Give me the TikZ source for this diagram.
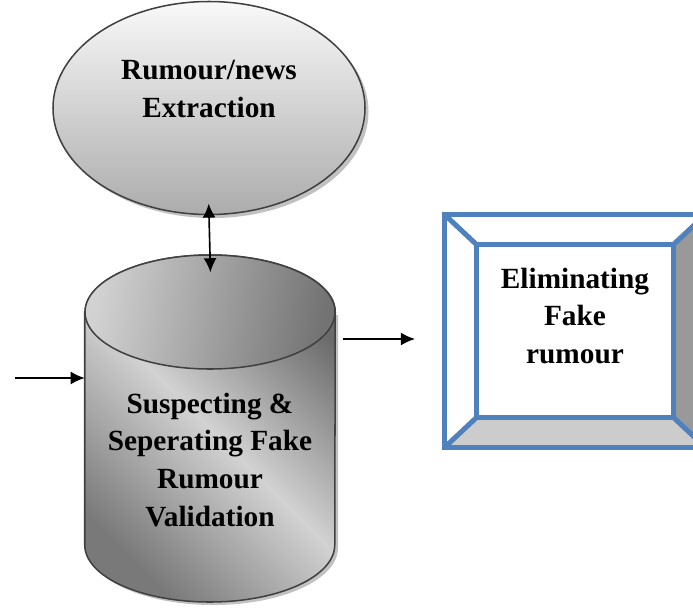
\documentclass[tikz,border=0pt]{standalone}
\usepackage{fontspec}
\setmainfont{Liberation Serif}
\usepackage{xcolor}
\usetikzlibrary{shapes.geometric,arrows.meta,positioning,calc,shadows}
\definecolor{bevelblue}{HTML}{4F81BD}
\definecolor{cyldark}{HTML}{6A6A6A}
\definecolor{cyllight}{HTML}{D2D2D2}

\begin{document}
\begin{tikzpicture}[
    x=0.03cm, y=-0.03cm,
    txt/.style={font=\fontsize{25}{32.4}\selectfont\bfseries, align=center, inner sep=0pt},
    blob/.style={ellipse, draw=gray!50!black, line width=1.3pt, top color=gray!5, bottom color=gray!65,
        minimum width=9.36cm, minimum height=6.39cm,
        drop shadow={shadow xshift=3pt, shadow yshift=-3pt, fill=gray!70, opacity=0.7}},
    store/.style={rectangle, minimum width=7.5cm, minimum height=10.41cm, inner sep=0pt},
    cylline/.style={draw=gray!50!black, line width=1.3pt},
    frame/.style={rectangle, minimum width=7.8cm, minimum height=6.96cm, inner sep=0pt},
    link/.style={-{Latex[length=12pt,width=11pt]}, line width=1.4pt},
    bevel/.style={draw=bevelblue, line width=4.3pt, line join=miter}
]
    \useasboundingbox (0,0) rectangle (693,608);

    % Extraction stage
    \node[blob] (ext) at (209,108) {};
    \node[txt] (exttxt) at (209,89) {Rumour/news\\Extraction};

    % Validation store (cylinder drawn round the node)
    \node[store] (val) at (210,428.5) {};
    \fill[gray!70, opacity=0.7] (88,315) -- (88,548) arc[start angle=180, end angle=0, x radius=125, y radius=57]
        -- (338,315) -- cycle;
    \shade[cylline, left color=cyldark, right color=cyldark!90!white, middle color=cyllight, shading angle=-45]
        (val.west |- 0,312) -- (val.west |- 0,545) arc[start angle=180, end angle=0, x radius=125, y radius=57]
        -- (val.east |- 0,312) arc[start angle=0, end angle=-180, x radius=125, y radius=57] -- cycle;
    \shade[cylline, left color=cyllight, right color=gray!110, shading angle=80]
        (210,312) ellipse [x radius=125, y radius=57];
    \node[txt] (valtxt) at (210,460) {Suspecting \&\\Seperating Fake\\Rumour\\Validation};

    % Elimination box with bevel
    \node[frame] (elimframe) at (575,331) {};
    \node[rectangle, minimum width=5.88cm, minimum height=5.16cm, inner sep=0pt] (elim) at (575,331) {};
    \fill[white] (elimframe.north west) -- (elim.north west) -- (elim.south west) -- (elimframe.south west) -- cycle;
    \fill[white] (elimframe.north west) -- (elim.north west) -- (elim.north east) -- (elimframe.north east) -- cycle;
    \fill[gray!80] (elimframe.north east) -- (elim.north east) -- (elim.south east) -- (elimframe.south east) -- cycle;
    \fill[gray!40] (elimframe.south west) -- (elim.south west) -- (elim.south east) -- (elimframe.south east) -- cycle;
    \draw[bevel] (elimframe.north west) rectangle (elimframe.south east);
    \draw[bevel] (elim.north west) rectangle (elim.south east);
    \draw[bevel] (elimframe.north west) -- (elim.north west)
                 (elimframe.north east) -- (elim.north east)
                 (elimframe.south west) -- (elim.south west)
                 (elimframe.south east) -- (elim.south east);
    \node[txt] (elimtxt) at (575,316) {Eliminating\\Fake\\rumour};

    % Connectors
    \coordinate (inlet) at (15,378);
    \coordinate (outS) at (343,339);
    \coordinate (outE) at (415,339);
    \draw[link, {Latex[length=12pt,width=11pt]}-{Latex[length=12pt,width=11pt]}, shorten <=-10, shorten >=-15]
        (ext.south) -- (val.north);
    \draw[link] (inlet) -- (inlet -| val.west);
    \draw[link] (outS) -- (outE);
\end{tikzpicture}
\end{document}
